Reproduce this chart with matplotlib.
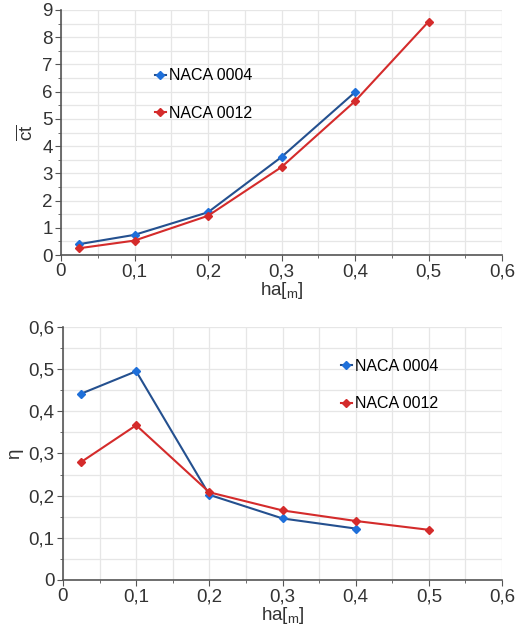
import matplotlib
matplotlib.use('Agg')
import matplotlib.pyplot as plt
from matplotlib.ticker import MultipleLocator, FuncFormatter

plt.rcParams['font.family'] = ['Liberation Sans', 'DejaVu Sans']

# data
x_0004 = [0.025, 0.1, 0.2, 0.3, 0.4]
x_0012 = [0.025, 0.1, 0.2, 0.3, 0.4, 0.5]
ct_0004 = [0.40, 0.74, 1.57, 3.60, 5.98]
ct_0012 = [0.25, 0.53, 1.44, 3.23, 5.65, 8.57]
eta_0004 = [0.442, 0.495, 0.202, 0.146, 0.122]
eta_0012 = [0.280, 0.367, 0.208, 0.165, 0.140, 0.119]

blue_line = '#24508f'
blue_mark = '#1e6fd9'
red_line = '#d42b2b'
red_mark = '#d42b2b'

comma = FuncFormatter(lambda v, p: ('%g' % round(v, 3)).replace('.', ','))

fig = plt.figure(figsize=(5.21, 6.29), dpi=100)
ax1 = fig.add_axes([61 / 521, 1 - 255 / 629, 441 / 521, 245 / 629])
ax2 = fig.add_axes([63 / 521, 1 - 580 / 629, 439 / 521, 253 / 629])


def style(ax):
    for s in ['top', 'right']:
        ax.spines[s].set_visible(False)
    for s in ['left', 'bottom']:
        ax.spines[s].set_color('#555555')
        ax.spines[s].set_linewidth(1.2)
    ax.set_xlim(0, 0.6)
    ax.xaxis.set_major_locator(MultipleLocator(0.1))
    ax.xaxis.set_minor_locator(MultipleLocator(0.05))
    ax.xaxis.set_major_formatter(comma)
    ax.tick_params(which='both', direction='out', colors='#555555', labelcolor='#333333', labelsize=13.5)
    ax.tick_params(which='major', length=4, pad=2)
    ax.tick_params(which='minor', length=2)
    ax.grid(True, which='both', color='#e6e6e6', linewidth=0.9)
    ax.set_axisbelow(True)


style(ax1)
ax1.plot(x_0004, ct_0004, color=blue_line, lw=1.5, marker='D', ms=4.5,
         mfc=blue_mark, mec=blue_mark, label='NACA 0004')
ax1.plot(x_0012, ct_0012, color=red_line, lw=1.5, marker='D', ms=4.5,
         mfc=red_mark, mec=red_mark, label='NACA 0012')
ax1.set_ylim(0, 9)
ax1.yaxis.set_major_locator(MultipleLocator(1))
ax1.yaxis.set_minor_locator(MultipleLocator(0.5))
ax1.set_ylabel(r'$\overline{\mathregular{ct}}$', fontsize=13.5, color='#333333', labelpad=4)
ax1.set_xlabel(r'ha[$_\mathregular{m}$]', fontsize=13.5, color='#333333', labelpad=0)
ax1.legend(loc='upper left', bbox_to_anchor=(0.18, 0.82), frameon=False, fontsize=11.5,
           handlelength=0.7, handletextpad=0.2, labelspacing=1.4)

style(ax2)
ax2.plot(x_0004, eta_0004, color=blue_line, lw=1.5, marker='D', ms=4.5,
         mfc=blue_mark, mec=blue_mark, label='NACA 0004')
ax2.plot(x_0012, eta_0012, color=red_line, lw=1.5, marker='D', ms=4.5,
         mfc=red_mark, mec=red_mark, label='NACA 0012')
ax2.set_ylim(0, 0.6)
ax2.yaxis.set_major_locator(MultipleLocator(0.1))
ax2.yaxis.set_minor_locator(MultipleLocator(0.05))
ax2.yaxis.set_major_formatter(comma)
ax2.set_ylabel('η', fontsize=13.5, color='#333333', labelpad=4)
ax2.set_xlabel(r'ha[$_\mathregular{m}$]', fontsize=13.5, color='#333333', labelpad=0)
ax2.legend(loc='upper left', bbox_to_anchor=(0.6, 0.93), frameon=False, fontsize=11.5,
           handlelength=0.7, handletextpad=0.2, labelspacing=1.4)

fig.savefig('out.png', dpi=100)
